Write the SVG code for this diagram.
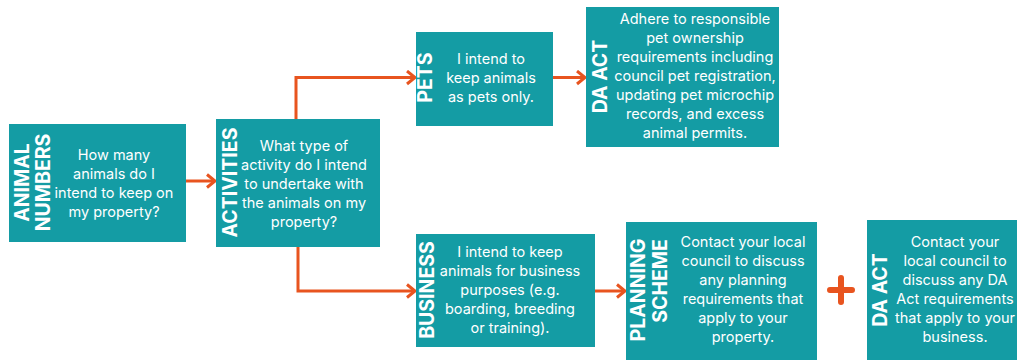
<svg xmlns="http://www.w3.org/2000/svg" width="1017" height="360" viewBox="0 0 1017 360">
<defs>
<style>
.box{fill:#149ca4;}
.t{font-family:Inter,"Liberation Sans",sans-serif;font-weight:700;font-size:19.5px;fill:#fff;text-anchor:middle;}
.b{font-family:Inter,"Liberation Sans",sans-serif;font-size:14.5px;fill:#fff;text-anchor:middle;}
.c{fill:none;stroke:#e8541f;stroke-width:3;}
</style>
<marker id="ah" markerUnits="userSpaceOnUse" markerWidth="16" markerHeight="16" refX="11" refY="8" orient="auto">
<polyline points="3,1.5 11,8 3,14.5" fill="none" stroke="#e8541f" stroke-width="3" stroke-linejoin="miter"/>
</marker>
</defs>
<rect width="1017" height="360" fill="#fff"/>
<g id="connectors">
<path class="c" d="M186,181 H215" marker-end="url(#ah)"/>
<path class="c" d="M296,119 V77.5 H415" marker-end="url(#ah)"/>
<path class="c" d="M553,77.5 H585" marker-end="url(#ah)"/>
<path class="c" d="M298,247 V291 H415" marker-end="url(#ah)"/>
<path class="c" d="M595,291 H625" marker-end="url(#ah)"/>
<path d="M841,278 V302 M830,290 H852" fill="none" stroke="#e8541f" stroke-width="6" stroke-linecap="round"/>
</g>
<g id="animal-numbers">
<rect class="box" x="9" y="124" width="177" height="118"/>
<text class="t" transform="translate(28.5,182.5) rotate(-90)">ANIMAL</text>
<text class="t" transform="translate(50,182.5) rotate(-90)">NUMBERS</text>
<text class="b"><tspan x="114" y="160">How many</tspan><tspan x="114" y="179">animals do I</tspan><tspan x="114" y="198">intend to keep on</tspan><tspan x="114" y="217">my property?</tspan></text>
</g>
<g id="activities">
<rect class="box" x="216" y="119" width="164" height="128"/>
<text class="t" transform="translate(237,182.5) rotate(-90)">ACTIVITIES</text>
<text class="b"><tspan x="304" y="151">What type of</tspan><tspan x="304" y="170">activity do I intend</tspan><tspan x="304" y="189">to undertake with</tspan><tspan x="304" y="208">the animals on my</tspan><tspan x="304" y="227">property?</tspan></text>
</g>
<g id="pets">
<rect class="box" x="416" y="32" width="137" height="94"/>
<text class="t" transform="translate(432,77.5) rotate(-90)">PETS</text>
<text class="b"><tspan x="491" y="64">I intend to</tspan><tspan x="491" y="83">keep animals</tspan><tspan x="491" y="102">as pets only.</tspan></text>
</g>
<g id="da-act-pets">
<rect class="box" x="586" y="7" width="193" height="140"/>
<text class="t" transform="translate(607,76.5) rotate(-90)">DA ACT</text>
<text class="b"><tspan x="695" y="24">Adhere to responsible</tspan><tspan x="695" y="43">pet ownership</tspan><tspan x="695" y="62">requirements including</tspan><tspan x="695" y="81">council pet registration,</tspan><tspan x="695" y="100">updating pet microchip</tspan><tspan x="695" y="119">records, and excess</tspan><tspan x="695" y="138">animal permits.</tspan></text>
</g>
<g id="business">
<rect class="box" x="416" y="234" width="179" height="113"/>
<text class="t" transform="translate(434,290) rotate(-90)">BUSINESS</text>
<text class="b"><tspan x="510" y="257">I intend to keep</tspan><tspan x="510" y="276">animals for business</tspan><tspan x="510" y="295">purposes (e.g.</tspan><tspan x="510" y="314">boarding, breeding</tspan><tspan x="510" y="333">or training).</tspan></text>
</g>
<g id="planning-scheme">
<rect class="box" x="626" y="222" width="191" height="138"/>
<text class="t" transform="translate(645,290) rotate(-90)">PLANNING</text>
<text class="t" transform="translate(667,281) rotate(-90)">SCHEME</text>
<text class="b"><tspan x="743" y="247">Contact your local</tspan><tspan x="743" y="266">council to discuss</tspan><tspan x="743" y="285">any planning</tspan><tspan x="743" y="304">requirements that</tspan><tspan x="743" y="323">apply to your</tspan><tspan x="743" y="342">property.</tspan></text>
</g>
<g id="da-act-business">
<rect class="box" x="867" y="220" width="150" height="140"/>
<text class="t" transform="translate(887,290) rotate(-90)">DA ACT</text>
<text class="b"><tspan x="955" y="247">Contact your</tspan><tspan x="955" y="266">local council to</tspan><tspan x="955" y="285">discuss any DA</tspan><tspan x="955" y="304">Act requirements</tspan><tspan x="955" y="323">that apply to your</tspan><tspan x="955" y="342">business.</tspan></text>
</g>
</svg>
